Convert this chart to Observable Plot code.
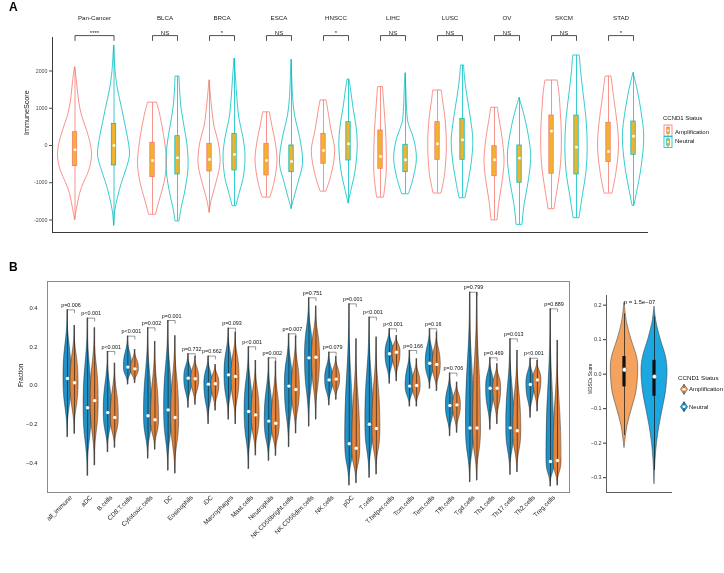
<!DOCTYPE html>
<html>
<head>
<meta charset="utf-8">
<script src="https://cdn.jsdelivr.net/npm/d3@7"></script>
<script src="https://cdn.jsdelivr.net/npm/@observablehq/plot@0.6"></script>
<style>
  body { margin: 0; background: #fff; font-family: "Liberation Sans", Arial, Helvetica, sans-serif; }
  #root { position: relative; width: 724px; height: 573px; overflow: hidden; background: #fff; }
  #root > * { will-change: transform; }
  .panel-tag { position: absolute; font-weight: bold; font-size: 12px; line-height: 12px; color: #000; }
</style>
</head>
<body>
<div id="root"></div>
<script>
// ---------------- DATA: Panel A (ImmuneScore by cancer type) ----------------
const cancers = ["Pan-Cancer","BLCA","BRCA","ESCA","HNSCC","LIHC","LUSC","OV","SKCM","STAD"];
const signif  = ["****","NS","*","NS","*","NS","NS","NS","NS","*"];
const immuneTicks = [-2000,-1000,0,1000,2000];
// violin density profiles: [ImmuneScore, relative density]
const ampDensity = [
  [[-2000,0],[-1700,2],[-1300,5],[-1000,9],[-700,14],[-300,17],[0,16],[400,12],[800,7],[1200,4],[1700,2],[2100,0]],
  [[-1850,3.5],[-1500,7],[-1000,12],[-500,14.5],[0,13],[500,10],[900,7],[1150,4.5]],
  [[-1800,0],[-1500,2],[-1100,6],[-600,10.5],[-300,11],[100,9],[500,5],[900,3],[1300,1.5],[1750,0]],
  [[-1390,4],[-1000,8],[-400,11],[100,9],[500,6],[890,3.3]],
  [[-1230,3],[-800,8],[-150,11.7],[400,8],[900,5],[1210,3]],
  [[-1390,3.5],[-800,6],[-300,6.3],[400,5.5],[1000,4],[1566,2.5]],
  [[-1280,4],[-800,7.5],[0,9.3],[700,8],[1200,5.5],[1476,4.2]],
  [[-2000,3],[-1500,5],[-900,8.5],[-400,10],[200,8],[700,5],[1012,3.3]],
  [[-1700,3],[-1200,6],[-500,9.5],[300,10.3],[1000,9],[1500,7.5],[1745,6]],
  [[-1280,4],[-800,7.5],[-50,10.5],[600,9],[1200,6],[1852,3]]
];
const neuDensity = [
  [[-2150,0],[-1800,1],[-1400,4],[-1000,8],[-600,13],[-250,16],[200,14],[600,11],[1000,8],[1500,4],[2000,1.5],[2685,0]],
  [[-2030,2],[-1700,4],[-1200,8],[-600,11],[0,10],[500,7],[1000,4],[1500,2.5],[1850,2]],
  [[-1620,2],[-1300,5],[-900,9],[-300,11],[200,9],[700,5],[1200,3],[1800,1.5],[2330,0]],
  [[-1700,0],[-1400,3],[-1000,7],[-500,11.5],[0,10],[400,7],[800,3.5],[1300,1.5],[1800,0.7],[2300,0]],
  [[-1550,0],[-1200,3],[-700,7],[0,9.2],[500,8],[1000,5],[1500,2.5],[1770,1]],
  [[-1300,3.5],[-900,8],[-400,11.3],[0,10],[300,7],[600,3],[1000,1.5],[1500,0.8],[1940,0]],
  [[-1405,3],[-1000,6],[-400,9.5],[134,10.8],[700,8.5],[1300,5],[1800,2.5],[2148,1.5]],
  [[-2120,3],[-1600,5],[-1000,9],[-300,11.7],[300,9],[800,5],[1280,0]],
  [[-1940,3],[-1400,6],[-700,10],[-50,11.2],[700,10],[1400,7],[2000,4.5],[2416,3.3]],
  [[-1610,1],[-1200,4],[-600,8],[240,10.7],[900,8],[1500,4],[1950,0]]
];
// box stats: [q1, median, q3]
const ampBox = [[-555,-115,357],[-850,-403,72],[-698,-375,45],[-805,-403,45],[-491,-134,313],
                [-626,-295,403],[-385,45,626],[-824,-385,-19],[-760,385,805],[-447,-161,609]];
const neuBox = [[-537,0,582],[-778,-330,250],[-671,-241,313],[-716,-430,0],[-403,45,626],
                [-716,-385,19],[-385,152,716],[-1000,-340,0],[-779,-45,805],[-250,250,644]];

// ---------------- DATA: Panel B (immune cell fractions) ----------------
const cells = ["all_immune","aDC","B.cells","CD8.T.cells","Cytotoxic.cells","DC","Eosinophils","iDC",
  "Macrophages","Mast.cells","Neutrophils","NK.CD56bright.cells","NK.CD56dim.cells","NK.cells","pDC",
  "T.cells","T.helper.cells","Tcm.cells","Tem.cells","Tfh.cells","Tgd.cells","Th1.cells","Th17.cells",
  "Th2.cells","Treg.cells"];
const pLabels = ["p=0.006","p<0.001","p<0.001","p<0.001","p=0.002","p=0.001","p=0.732","p=0.662",
  "p=0.093","p<0.001","p=0.002","p=0.007","p=0.751","p=0.079","p=0.001","p<0.001","p<0.001",
  "p=0.166","p=0.16","p=0.706","p=0.799","p=0.469","p=0.013","p<0.001","p=0.889"];
// [max, median, min]
const neutralStats = [
  [0.391,0.036,-0.267],[0.348,-0.115,-0.467],[0.176,-0.140,-0.345],[0.255,0.095,0.005],
  [0.298,-0.156,-0.378],[0.336,-0.126,-0.440],[0.164,0.038,-0.115],[0.152,0.007,-0.200],
  [0.296,0.055,-0.177],[0.200,-0.134,-0.432],[0.143,-0.184,-0.390],[0.267,-0.003,-0.319],
  [0.453,0.143,-0.212],[0.172,0.029,-0.103],[0.422,-0.301,-0.517],[0.353,-0.200,-0.477],
  [0.293,0.164,0.009],[0.181,-0.003,-0.109],[0.293,0.115,-0.017],[0.064,-0.103,-0.262],
  [0.482,-0.220,-0.500],[0.143,-0.014,-0.229],[0.241,-0.219,-0.462],[0.141,0.005,-0.167],
  [0.396,-0.393,-0.522]
];
const amplifStats = [
  [0.310,0.014,-0.250],[0.298,-0.078,-0.413],[0.115,-0.165,-0.322],[0.186,0.086,0.012],
  [0.227,-0.177,-0.332],[0.257,-0.165,-0.455],[0.150,0.035,-0.100],[0.108,0.009,-0.130],
  [0.276,0.047,-0.200],[0.129,-0.152,-0.362],[0.125,-0.195,-0.364],[0.255,-0.021,-0.248],
  [0.410,0.146,-0.176],[0.150,0.033,-0.074],[0.241,-0.324,-0.505],[0.250,-0.222,-0.460],
  [0.258,0.172,0.022],[0.138,0.000,-0.109],[0.276,0.109,-0.029],[0.017,-0.100,-0.245],
  [0.480,-0.220,-0.491],[0.112,-0.014,-0.200],[0.181,-0.234,-0.448],[0.129,0.029,-0.134],
  [0.233,-0.388,-0.517]
];
const fractionTicks = [-0.4,-0.2,0,0.2,0.4];

// ---------------- DATA: Panel B right (MDSCs score) ----------------
const mdscGroups = ["Amplification","Neutral"];
const mdscDensity = [
  [[-0.213,0],[-0.15,3],[-0.1,7.5],[-0.05,12],[0.02,13.7],[0.05,12.5],[0.1,7],[0.15,2.5],[0.208,0]],
  [[-0.318,0],[-0.25,1],[-0.2,2.5],[-0.15,5],[-0.1,8.3],[-0.05,11.5],[0.011,13],[0.05,11.5],[0.1,6.3],[0.15,2],[0.196,0]]
];
const mdscBox = [[-0.037,0.013,0.051],[-0.064,-0.007,0.040]];
const mdscWhisker = [[-0.178,0.175],[-0.279,0.166]];
const mdscTicks = [-0.3,-0.2,-0.1,0,0.1,0.2];
const mdscP = "p = 1.5e\u221207";

// ---------------- helpers ----------------
const FONT = "'Liberation Sans', Arial, Helvetica, sans-serif";
const root = document.getElementById("root");
function place(node, left, top) {
  node.style.position = "absolute";
  node.style.left = left + "px";
  node.style.top = top + "px";
  root.appendChild(node);
}
const baseStyle = {fontFamily: FONT, background: "transparent", color: "#222", overflow: "visible"};

// ================= Panel A =================
(function () {
  const colAmp = "#F8766D", colNeu = "#00BFC4", boxFill = "#F0B42C";
  const pxPerUnit = 57;             // pixels per category step
  const panGap = 0.237;             // Pan-Cancer gets a wider slot
  const xDom = [-0.737, 9.719];
  const yDom = [-2336, 2899];
  const bracket = {top: 2950, leg: 2820};
  const catPos = cancers.map((c, i) => i + (i > 0 ? panGap : 0));
  const halfSep = cancers.map((c, i) => (i === 0 ? 19.5 : 12.5) / pxPerUnit);

  const vRows = [], boxRows = [], brRows = [];
  cancers.forEach((c, i) => {
    const profs = [ampDensity[i], neuDensity[i]], boxes = [ampBox[i], neuBox[i]];
    [0, 1].forEach(g => {
      const cx = catPos[i] + (g ? 1 : -1) * halfSep[i];
      const col = g ? colNeu : colAmp;
      profs[g].forEach(([v, d]) => vRows.push({key: c + "|" + g, v, x1: cx - d / pxPerUnit, x2: cx + d / pxPerUnit, col}));
      const [q1, med, q3] = boxes[g];
      boxRows.push({cx, q1, med, q3, lo: profs[g][0][0], hi: profs[g][profs[g].length - 1][0], col});
    });
    const a = catPos[i] - halfSep[i], b = catPos[i] + halfSep[i];
    [[a, bracket.leg], [a, bracket.top], [b, bracket.top], [b, bracket.leg]].forEach(([x, y]) => brRows.push({key: c, x, y}));
  });
  const boxHalf = 2.2 / pxPerUnit;

  const svg = Plot.plot({
    width: 660, height: 245,
    marginLeft: 52, marginRight: 12, marginTop: 37, marginBottom: 13,
    style: baseStyle,
    x: {domain: xDom, axis: null},
    y: {domain: yDom},
    marks: [
      Plot.ruleX([xDom[0]], {stroke: "#3a3a3a", strokeWidth: 1}),
      Plot.ruleY([yDom[0]], {stroke: "#3a3a3a", strokeWidth: 1}),
      Plot.axisY({ticks: immuneTicks, tickFormat: d => String(d), tickSize: 3, tickPadding: 2, fontSize: 5.3, label: null, color: "#4d4d4d"}),
      Plot.text(["ImmuneScore"], {frameAnchor: "left", rotate: -90, dx: -26, fontSize: 7.2, fill: "#111"}),
      Plot.areaX(vRows, {y: "v", x1: "x1", x2: "x2", z: "key", fill: "none", stroke: "col", strokeWidth: 0.8, curve: "catmull-rom"}),
      Plot.ruleX(boxRows, {x: "cx", y1: "lo", y2: "hi", stroke: "col", strokeWidth: 0.8}),
      Plot.rect(boxRows, {x1: d => d.cx - boxHalf, x2: d => d.cx + boxHalf, y1: "q1", y2: "q3", fill: boxFill, stroke: "col", strokeWidth: 0.8}),
      Plot.dot(boxRows, {x: "cx", y: "med", symbol: "square", r: 1.4, fill: "white", stroke: null}),
      Plot.text(cancers, {x: (d, i) => catPos[i], text: d => d, frameAnchor: "top", dy: -22, fontSize: 6.2, fill: "#1a1a1a"}),
      Plot.text(signif, {x: (d, i) => catPos[i], text: d => d, frameAnchor: "top", dy: -6.5, fontSize: 6, fill: "#1a1a1a"}),
      Plot.line(brRows, {x: "x", y: "y", z: "key", stroke: "#222", strokeWidth: 0.8})
    ]
  });
  place(svg, 0, 0);

  const leg = document.createElement("div");
  leg.innerHTML = `
  <svg width="66" height="40" style="overflow:visible;font-family:${FONT}">
    <text x="5" y="9" font-size="6" fill="#111">CCND1 Status</text>
    <rect x="6" y="14" width="8" height="11" fill="none" stroke="${colAmp}" stroke-width="0.8"/>
    <line x1="10" x2="10" y1="14" y2="25" stroke="${colAmp}" stroke-width="0.7"/>
    <rect x="8.6" y="16.3" width="2.8" height="6.4" fill="${boxFill}" stroke="${colAmp}" stroke-width="0.6"/>
    <rect x="9.2" y="18.7" width="1.6" height="1.6" fill="#fff"/>
    <text x="17" y="23" font-size="6" fill="#111">Amplification</text>
    <rect x="6" y="25.5" width="8" height="11" fill="none" stroke="${colNeu}" stroke-width="0.8"/>
    <line x1="10" x2="10" y1="25.5" y2="36.5" stroke="${colNeu}" stroke-width="0.7"/>
    <rect x="8.6" y="27.8" width="2.8" height="6.4" fill="${boxFill}" stroke="${colNeu}" stroke-width="0.6"/>
    <rect x="9.2" y="30.2" width="1.6" height="1.6" fill="#fff"/>
    <text x="17" y="32" font-size="6" fill="#111">Neutral</text>
  </svg>`;
  place(leg, 658, 111);
})();

// ================= Panel B (main) =================
(function () {
  const colNeu = "#2391c6", colAmp = "#e2843d";
  const pxPerUnit = 20.125;
  const pairOff = 3.5 / pxPerUnit;
  const halfW = 4 / pxPerUnit;
  const xDom = [-1.168, 24.77];
  const yDom = [-0.553, 0.5375];
  const vRows = [], cRows = [], brRows = [], pRows = [];
  cells.forEach((c, i) => {
    [[neutralStats[i], colNeu, -1], [amplifStats[i], colAmp, 1]].forEach(([s, col, side]) => {
      const cx = i + side * pairOff;
      const [top, med, bot] = s;
      [[bot, 0], [med, 1], [top, 0]].forEach(([v, d]) => vRows.push({key: c + side, v, x1: cx - d * halfW, x2: cx + d * halfW, col}));
      cRows.push({cx, top, med, bot});
    });
    const yb = Math.max(neutralStats[i][0], amplifStats[i][0]);
    const a = i - pairOff, b = i + pairOff;
    [[a, yb], [b, yb], [b, yb - 0.015]].forEach(([x, y]) => brRows.push({key: c, x, y}));
    pRows.push({x: i, y: yb, t: pLabels[i]});
  });

  const svg = Plot.plot({
    width: 575, height: 300,
    marginLeft: 47, marginRight: 6, marginTop: 11, marginBottom: 78,
    style: baseStyle,
    x: {domain: xDom},
    y: {domain: yDom},
    marks: [
      Plot.frame({stroke: "#8a8a8a", strokeWidth: 1}),
      Plot.axisY({ticks: fractionTicks, tickFormat: d3.format(".1f"), tickSize: 0, tickPadding: 10, fontSize: 5.8, label: null, color: "#222"}),
      Plot.axisX({ticks: d3.range(cells.length), tickFormat: i => cells[i], tickRotate: -45, tickSize: 0, tickPadding: 4, fontSize: 6.4, label: null, color: "#222"}),
      Plot.text(["Fraction"], {frameAnchor: "left", rotate: -90, dx: -27, fontSize: 6.5, fill: "#111"}),
      Plot.areaX(vRows, {y: "v", x1: "x1", x2: "x2", z: "key", fill: "col", stroke: "#1a1a1a", strokeWidth: 0.45, curve: "bump-y"}),
      Plot.ruleX(cRows, {x: "cx", y1: "bot", y2: "top", stroke: "#111", strokeWidth: 0.6}),
      Plot.dot(cRows, {x: "cx", y: "med", r: 1.7, fill: "white", stroke: null}),
      Plot.line(brRows, {x: "x", y: "y", z: "key", stroke: "#333", strokeWidth: 0.5}),
      Plot.text(pRows, {x: "x", y: "y", text: "t", dy: -4.5, fontSize: 5.4, fill: "#111"})
    ]
  });
  place(svg, 0, 270);
})();

// ================= Panel B (MDSCs) =================
(function () {
  const cols = ["#F5A25E", "#1CA7E0"];
  const pxPerUnit = 30;
  const xDom = [-0.6, 1.6];
  const yDom = [-0.343, 0.228];
  const vRows = [], bRows = [];
  mdscGroups.forEach((g, i) => {
    mdscDensity[i].forEach(([v, d]) => vRows.push({key: g, v, x1: i - d / pxPerUnit, x2: i + d / pxPerUnit, col: cols[i]}));
    const [q1, med, q3] = mdscBox[i];
    bRows.push({cx: i, q1, med, q3, lo: mdscWhisker[i][0], hi: mdscWhisker[i][1]});
  });
  const boxHalf = 1.6 / pxPerUnit;
  const svg = Plot.plot({
    width: 120, height: 235,
    marginLeft: 46, marginRight: 8, marginTop: 25, marginBottom: 13,
    style: baseStyle,
    x: {domain: xDom, axis: null},
    y: {domain: yDom},
    marks: [
      Plot.ruleX([xDom[0]], {stroke: "#333", strokeWidth: 0.8}),
      Plot.ruleY([yDom[0]], {stroke: "#333", strokeWidth: 0.8}),
      Plot.axisY({ticks: mdscTicks, tickFormat: d3.format(".1f"), tickSize: 3, tickPadding: 2, fontSize: 5.4, label: null, color: "#333"}),
      Plot.text(["MDSCs Score"], {frameAnchor: "left", rotate: -90, dx: -16, fontSize: 4.8, fill: "#111"}),
      Plot.areaX(vRows, {y: "v", x1: "x1", x2: "x2", z: "key", fill: "col", stroke: "#333", strokeWidth: 0.5, curve: "catmull-rom"}),
      Plot.ruleX(bRows, {x: "cx", y1: "lo", y2: "hi", stroke: "#111", strokeWidth: 0.7}),
      Plot.rect(bRows, {x1: d => d.cx - boxHalf, x2: d => d.cx + boxHalf, y1: "q1", y2: "q3", fill: "#111"}),
      Plot.dot(bRows, {x: "cx", y: "med", r: 2.2, fill: "white", stroke: "#555", strokeWidth: 0.5}),
      Plot.text([mdscP], {x: 0.5, frameAnchor: "top", dy: 4.3, fontSize: 5.9, fill: "#111"})
    ]
  });
  place(svg, 560, 270);

  const leg = document.createElement("div");
  leg.innerHTML = `
  <svg width="56" height="46" style="overflow:visible;font-family:${FONT}">
    <text x="10" y="12.4" font-size="6.2" fill="#111">CCND1 Status</text>
    <polygon points="16,16.3 19.6,21.3 16,26.3 12.4,21.3" fill="${cols[0]}" stroke="#333" stroke-width="0.5"/>
    <line x1="16" x2="16" y1="16.3" y2="26.3" stroke="#111" stroke-width="0.6"/>
    <circle cx="16" cy="21.3" r="1.4" fill="#fff"/>
    <text x="21" y="23.4" font-size="6" fill="#111">Amplification</text>
    <polygon points="16,33.7 19.6,38.7 16,43.7 12.4,38.7" fill="${cols[1]}" stroke="#333" stroke-width="0.5"/>
    <line x1="16" x2="16" y1="33.7" y2="43.7" stroke="#111" stroke-width="0.6"/>
    <circle cx="16" cy="38.7" r="1.4" fill="#fff"/>
    <text x="21" y="40.8" font-size="6" fill="#111">Neutral</text>
  </svg>`;
  place(leg, 668, 368);
})();

// panel tags
const tagA = document.createElement("div"); tagA.className = "panel-tag"; tagA.textContent = "A"; place(tagA, 9, 1);
const tagB = document.createElement("div"); tagB.className = "panel-tag"; tagB.textContent = "B"; place(tagB, 9, 261);
</script>
</body>
</html>
